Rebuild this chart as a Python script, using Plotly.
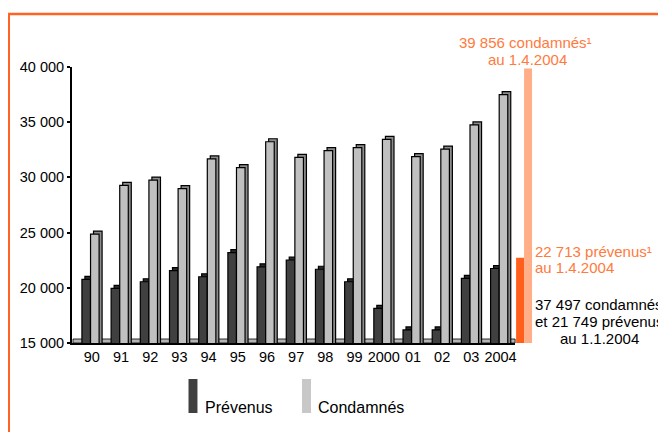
import plotly.graph_objects as go

years = ["90", "91", "92", "93", "94", "95", "96", "97", "98", "99", "2000", "01", "02", "03", "2004"]
prevenus = [20770, 19950, 20550, 21550, 21000, 23180, 21900, 22520, 21680, 20550, 18140, 16180, 16180, 20860, 21749]
condamnes = [24870, 29280, 29760, 28980, 31670, 30880, 33230, 31820, 32420, 32690, 33450, 31880, 32570, 34750, 37497]
april_keys = ["prévenus 1.4.2004", "condamnés 1.4.2004"]
april_values = [22713, 39856]
y_ticks = [15000, 20000, 25000, 30000, 35000, 40000]

# page has an 8px body margin; figure sized so its right/bottom edges meet the window
OFF = 8
W, H = 658, 424
L, R, T, B = 62, 126, 59, 89
PW, PH = W - L - R, H - T - B


def px(x):
    return (x - OFF - L) / PW


def py(y):
    return (H - B - (y - OFF)) / PH


FONT = "Liberation Sans, Arial, sans-serif"
ORANGE_TXT = "#FF7A3D"

xs = list(range(len(years)))
UNIT = 29.3          # px per category
BW = 8.6 / UNIT      # bar width (category units)
DX = 3.0 / UNIT      # 3-D depth shift (category units)
DY = 3.0 * 25000 / 276  # 3-D depth shift (value units)

fig = go.Figure()
# 3-D depth faces drawn behind the front faces
fig.add_trace(go.Bar(x=xs, y=[v + DY for v in prevenus], offset=-0.34 + DX, width=BW,
                     marker=dict(color="#2a2a2a", line=dict(color="black", width=1.2)), hoverinfo="skip"))
fig.add_trace(go.Bar(x=xs, y=[v + DY for v in condamnes], offset=-0.045 + DX, width=BW,
                     marker=dict(color="#8c8c8c", line=dict(color="black", width=1.2)), hoverinfo="skip"))
fig.add_trace(go.Bar(x=xs, y=prevenus, name="Prévenus", offset=-0.34, width=BW,
                     marker=dict(color="#404040", line=dict(color="black", width=1.2))))
fig.add_trace(go.Bar(x=xs, y=condamnes, name="Condamnés", offset=-0.045, width=BW,
                     marker=dict(color="#C0C0C0", line=dict(color="black", width=1.2))))
fig.add_trace(go.Bar(x=[0, 1], y=april_values, xaxis="x2", yaxis="y", width=1,
                     marker=dict(color=["#FF5F1A", "#FFAE88"], line=dict(width=0)),
                     hovertext=april_keys, showlegend=False))

split = (515 - OFF - L) / PW

fig.update_layout(
    width=W, height=H,
    margin=dict(l=L, r=R, t=T, b=B),
    paper_bgcolor="white", plot_bgcolor="white",
    font=dict(family=FONT, color="black", size=14),
    showlegend=False,
    barmode="overlay",
    separators=", ",
    xaxis=dict(domain=[0, split], range=[-0.68, 14.5], tickmode="array", tickvals=xs, ticktext=years,
               showline=True, linewidth=2, linecolor="black", ticks="", showgrid=False, zeroline=False,
               tickfont=dict(size=14.5)),
    xaxis2=dict(domain=[split, 1], range=[-0.625, 2.5], anchor="y", visible=False, showgrid=False),
    yaxis=dict(range=[15000, 40000], tickmode="array", tickvals=y_ticks, tickformat=",d",
               showline=True, linewidth=2, linecolor="black", ticks="outside", ticklen=3, tickwidth=2,
               tickcolor="black", showgrid=False, zeroline=False, tickfont=dict(size=14.5)),
)

shapes = [
    # orange frame
    dict(type="rect", xref="paper", yref="paper", x0=px(6.5), x1=px(900), y0=py(900), y1=py(14),
         line=dict(color="#FF6424", width=2.5), fillcolor="rgba(0,0,0,0)", layer="below"),
    # 3-D floor strip
    dict(type="rect", xref="paper", yref="paper", x0=px(71), x1=px(515), y0=py(343), y1=py(339),
         line=dict(color="black", width=0.8), fillcolor="#B4B4B4", layer="below"),
    # legend swatches
    dict(type="rect", xref="paper", yref="paper", x0=px(187), x1=px(196), y0=py(413), y1=py(379),
         line=dict(width=0), fillcolor="#404040"),
    dict(type="rect", xref="paper", yref="paper", x0=px(301), x1=px(310), y0=py(413), y1=py(379),
         line=dict(width=0), fillcolor="#C8C8C8"),
]
fig.update_layout(shapes=shapes)


def ann(text, x, y, color="black", xanchor="center", size=15):
    return dict(text=text, x=px(x), y=py(y), xref="paper", yref="paper", showarrow=False,
                xanchor=xanchor, yanchor="middle", font=dict(size=size, color=color, family=FONT))


annotations = [
    ann("39 856 condamnés¹", 525, 42, ORANGE_TXT),
    ann("au 1.4.2004", 527, 59, ORANGE_TXT),
    ann("22 713 prévenus¹", 533, 251, ORANGE_TXT, xanchor="left"),
    ann("au 1.4.2004", 533, 267, ORANGE_TXT, xanchor="left"),
    ann("37 497 condamnés", 599, 304),
    ann("et 21 749 prévenus", 599, 321),
    ann("au 1.1.2004", 600, 338),
    ann("Prévenus", 202, 407, xanchor="left", size=16),
    ann("Condamnés", 315, 407, xanchor="left", size=16),
]
fig.update_layout(annotations=annotations)

fig.write_html("out.html")
